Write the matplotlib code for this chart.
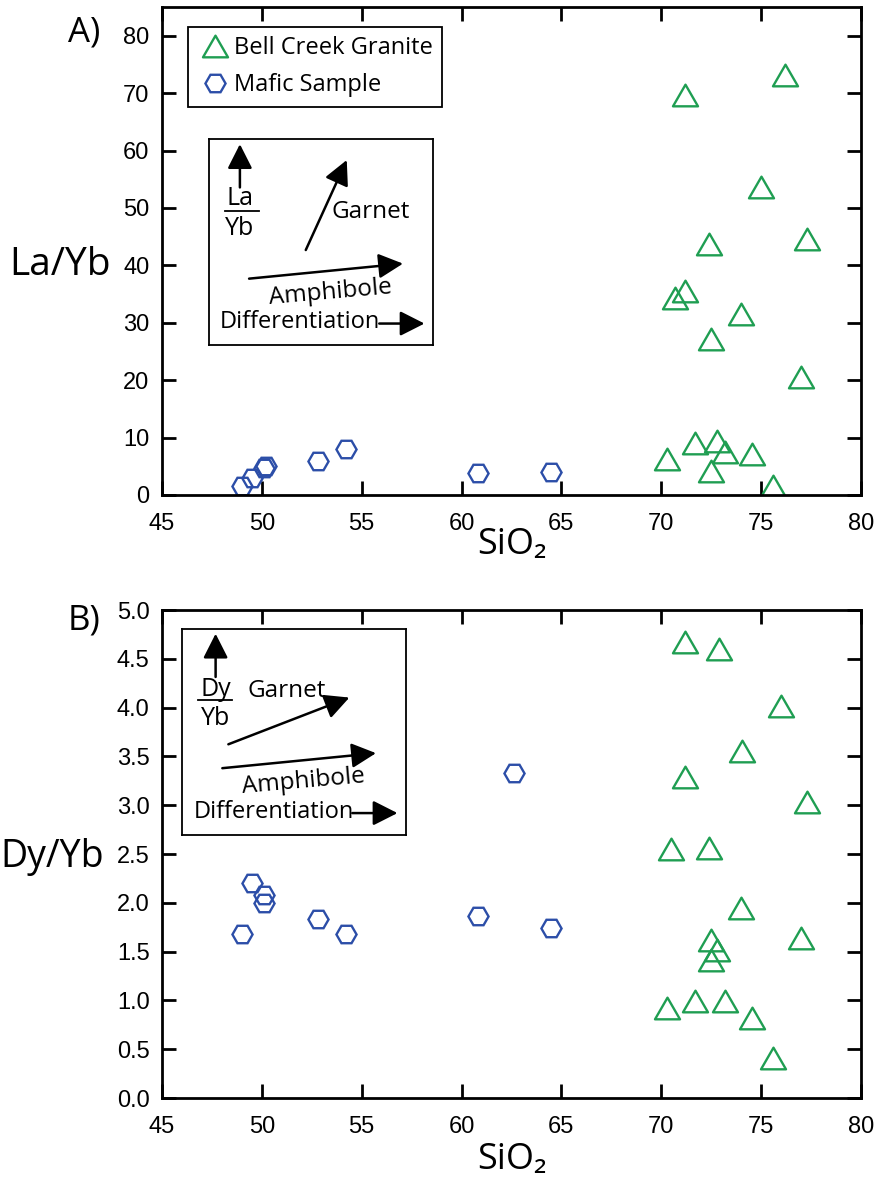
import numpy as np
import matplotlib
matplotlib.use("Agg")
import matplotlib.pyplot as plt
from matplotlib.path import Path

# La/Yb vs SiO2
sio2_granite_a = [76.2, 71.2, 75.0, 72.4, 77.3, 71.2, 70.7, 74.0, 72.5, 77.0,
                  71.7, 72.8, 73.2, 74.55, 70.3, 72.5, 75.6]
layb_granite = [73.2, 69.6, 53.7, 43.8, 44.5, 35.5, 34.3, 31.5, 27.2, 20.6,
                9.0, 9.35, 7.4, 7.2, 6.2, 4.1, 1.5]
sio2_mafic_a = [49.0, 49.5, 50.1, 50.2, 52.8, 54.2, 60.8, 64.5]
layb_mafic = [1.5, 3.0, 4.7, 5.0, 5.9, 8.0, 3.8, 4.0]

# Dy/Yb vs SiO2
sio2_granite_b = [71.2, 72.9, 76.0, 74.05, 71.2, 77.3, 70.5, 72.4, 74.0, 72.5,
                  77.0, 72.8, 72.5, 70.3, 71.7, 73.2, 74.55, 75.6]
dyyb_granite = [4.67, 4.60, 4.02, 3.56, 3.29, 3.03, 2.55, 2.56, 1.95, 1.62,
                1.64, 1.52, 1.41, 0.92, 0.99, 0.99, 0.82, 0.41]
sio2_mafic_b = [49.0, 49.5, 50.1, 50.1, 52.8, 54.2, 60.8, 62.6, 64.5]
dyyb_mafic = [1.68, 2.2, 2.08, 2.0, 1.83, 1.68, 1.87, 3.33, 1.74]

green = "#1f9e52"
blue = "#2c4ea8"
txt_font = ["Open Sans", "DejaVu Sans"]
tick_font = "Liberation Sans"

# equilateral triangle, centred on its bounding box
tri = Path([(-1, -0.866), (1, -0.866), (0, 0.866), (-1, -0.866)],
           [Path.MOVETO, Path.LINETO, Path.LINETO, Path.CLOSEPOLY])

fig = plt.figure(figsize=(8.81, 12.02), dpi=100)
ax1 = fig.add_axes([0.1839, 0.5882, 0.7934, 0.406])
ax2 = fig.add_axes([0.1839, 0.0865, 0.7934, 0.406])


def style_axes(ax, yticks, fmt):
    ax.set_xlim(45, 80)
    ax.set_xticks(np.arange(45, 81, 5))
    ax.set_yticks(yticks)
    ax.set_yticklabels([fmt % v for v in yticks])
    ax.tick_params(direction="in", length=10, width=2, top=True, right=True,
                   labelsize=17)
    ax.tick_params(axis="x", pad=13)
    ax.tick_params(axis="y", pad=9)
    for lab in ax.get_xticklabels() + ax.get_yticklabels():
        lab.set_fontfamily(tick_font)
    for sp in ax.spines.values():
        sp.set_linewidth(2)


def draw_inset(ax, rect, top, bottom, garnet_tail, garnet_tip, garnet_txt):
    ins = ax.inset_axes(rect)
    ins.set_xlim(0, 1)
    ins.set_ylim(0, 1)
    ins.set_xticks([])
    ins.set_yticks([])
    ins.patch.set_alpha(0)
    for sp in ins.spines.values():
        sp.set_linewidth(1.3)
    arw = dict(arrowstyle="-|>,head_length=0.75,head_width=0.38",
               color="black", lw=1.8, mutation_scale=20,
               shrinkA=0, shrinkB=0)
    ux = top[0]
    ins.annotate("", xy=(ux, 0.975), xytext=(ux, 0.765), arrowprops=arw)
    ins.text(top[0], top[1], top[2], ha="center", va="center",
             fontsize=18, family=txt_font)
    ins.plot([0.07, 0.223], [0.652, 0.652], color="black", lw=1.3)
    ins.text(bottom[0], bottom[1], bottom[2], ha="center", va="center",
             fontsize=18, family=txt_font)
    ins.annotate("", xy=garnet_tip, xytext=garnet_tail, arrowprops=arw)
    ins.text(garnet_txt[0], garnet_txt[1], "Garnet", ha="center",
             va="center", fontsize=17.5, family=txt_font)
    ins.annotate("", xy=(0.866, 0.395), xytext=(0.179, 0.322),
                 arrowprops=arw)
    ins.text(0.54, 0.255, "Amphibole", ha="center", va="center",
             rotation=5, fontsize=17.5, family=txt_font)
    ins.text(0.05, 0.11, "Differentiation", ha="left", va="center",
             fontsize=17, family=txt_font)
    ins.annotate("", xy=(0.962, 0.104), xytext=(0.76, 0.104),
                 arrowprops=arw)


# panel A
ax1.plot(sio2_granite_a, layb_granite, linestyle="none", marker=tri,
         markersize=18, markerfacecolor="none", markeredgecolor=green,
         markeredgewidth=1.7, label="Bell Creek Granite")
ax1.plot(sio2_mafic_a, layb_mafic, linestyle="none", marker="H",
         markersize=14.5, markerfacecolor="none", markeredgecolor=blue,
         markeredgewidth=1.7, label="Mafic Sample")
ax1.set_ylim(0, 85)
style_axes(ax1, np.arange(0, 81, 10), "%d")
leg = ax1.legend(loc="upper left", bbox_to_anchor=(0.037, 0.959),
                 borderaxespad=0, fancybox=False, framealpha=1,
                 edgecolor="black", prop={"family": txt_font, "size": 17},
                 borderpad=0.4, labelspacing=0.55, handlelength=1.5,
                 handletextpad=0.05, numpoints=1)
leg.get_frame().set_linewidth(1.3)
ax1.set_xlabel("SiO\u2082", fontsize=26, family=txt_font)
ax1.xaxis.set_label_coords(0.5, -0.065)
ax1.set_ylabel("La/Yb", fontsize=28, family=txt_font, rotation=0,
               ha="right", va="center")
ax1.yaxis.set_label_coords(-0.074, 0.471)
ax1.text(-0.088, 0.947, "A)", transform=ax1.transAxes, ha="right",
         va="center", fontsize=25, family=txt_font)
draw_inset(ax1, [0.0672, 0.3074, 0.3205, 0.422],
           (0.138, 0.71, "La"), (0.138, 0.565, "Yb"),
           (0.432, 0.461), (0.615, 0.898), (0.721, 0.647))

# panel B
ax2.plot(sio2_granite_b, dyyb_granite, linestyle="none", marker=tri,
         markersize=18, markerfacecolor="none", markeredgecolor=green,
         markeredgewidth=1.7)
ax2.plot(sio2_mafic_b, dyyb_mafic, linestyle="none", marker="H",
         markersize=14.5, markerfacecolor="none", markeredgecolor=blue,
         markeredgewidth=1.7)
ax2.set_ylim(0, 5)
style_axes(ax2, np.arange(0, 5.01, 0.5), "%.1f")
ax2.set_xlabel("SiO\u2082", fontsize=26, family=txt_font)
ax2.xaxis.set_label_coords(0.5, -0.09)
ax2.set_ylabel("Dy/Yb", fontsize=27, family=txt_font, rotation=0,
               ha="right", va="center")
ax2.yaxis.set_label_coords(-0.083, 0.494)
ax2.text(-0.088, 0.978, "B)", transform=ax2.transAxes, ha="right",
         va="center", fontsize=25, family=txt_font)
draw_inset(ax2, [0.029, 0.540, 0.32, 0.422],
           (0.149, 0.705, "Dy"), (0.149, 0.565, "Yb"),
           (0.206, 0.438), (0.747, 0.665), (0.468, 0.697))

fig.savefig("out.png", dpi=100, facecolor="white")
